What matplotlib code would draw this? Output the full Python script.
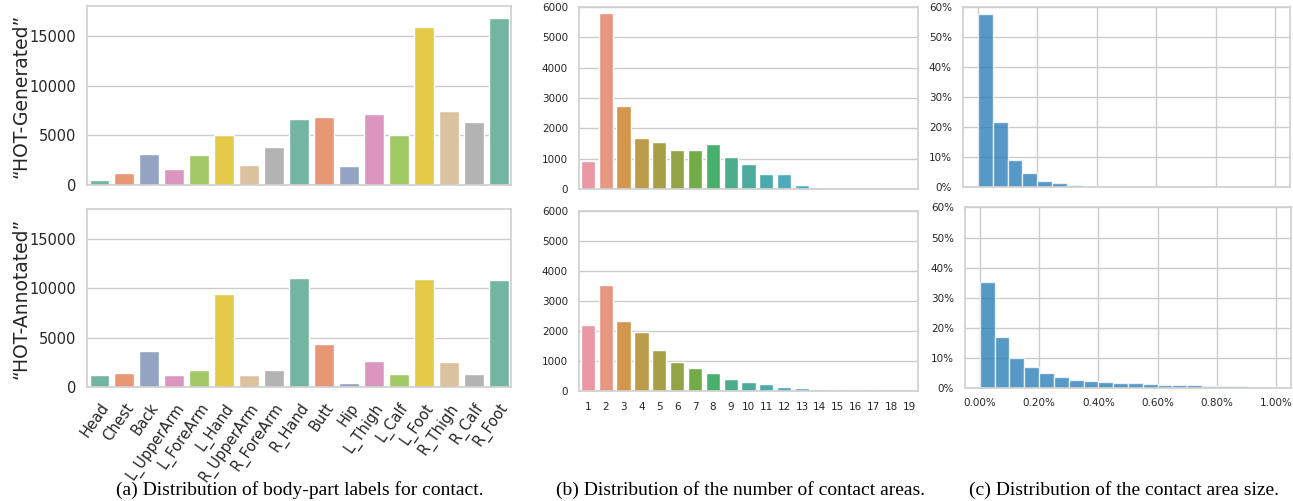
import numpy as np
import matplotlib
matplotlib.use("Agg")
import matplotlib.pyplot as plt
from matplotlib.ticker import PercentFormatter
import seaborn as sns

# (a) body-part label counts
parts = ["Head", "Chest", "Back", "L_UpperArm", "L_ForeArm", "L_Hand", "R_UpperArm",
         "R_ForeArm", "R_Hand", "Butt", "Hip", "L_Thigh", "L_Calf", "L_Foot",
         "R_Thigh", "R_Calf", "R_Foot"]
gen_parts = [505, 1150, 3140, 1620, 3000, 5020, 2020, 3780, 6640, 6880, 1890,
             7110, 4990, 15900, 7450, 6340, 16850]
ann_parts = [1250, 1380, 3610, 1210, 1750, 9400, 1210, 1750, 11060, 4380, 400,
             2630, 1350, 10960, 2560, 1350, 10890]

# (b) number of contact areas
n_areas = list(range(1, 20))
gen_areas = [920, 5790, 2735, 1680, 1540, 1295, 1285, 1480, 1040, 830, 500, 487,
             144, 55, 12, 6, 4, 2, 1]
ann_areas = [2190, 3530, 2340, 1970, 1370, 980, 780, 590, 412, 290, 245, 145,
             111, 78, 45, 45, 45, 11, 5]

# (c) contact area size histogram (fraction per bin, bin width 0.05%)
bin_edges = [i * 0.0005 for i in range(20)]
gen_size = [0.577, 0.216, 0.091, 0.047, 0.021, 0.014, 0.007, 0.003, 0.001, 0.0005,
            0.0003, 0.0002, 0.0001, 0.0001, 0.0001, 0, 0, 0, 0, 0]
ann_size = [0.352, 0.171, 0.100, 0.070, 0.051, 0.038, 0.028, 0.024, 0.020, 0.017,
            0.0155, 0.013, 0.011, 0.010, 0.009, 0.008, 0.007, 0.0055, 0.0045, 0.004]

sns.set_theme(style="whitegrid")

set2 = [sns.desaturate(c, 0.75) for c in sns.color_palette("Set2", 8)]
part_colors = [set2[i % 8] for i in range(len(parts))]
husl = [sns.desaturate(c, 0.75) for c in sns.husl_palette(len(n_areas), l=.7)]
hist_color = "#1f77b4"

fig = plt.figure(figsize=(12.93, 5.01), dpi=100)

ax_a1 = fig.add_axes([0.0673, 0.631, 0.328, 0.357])
ax_a2 = fig.add_axes([0.0673, 0.2275, 0.328, 0.355])
ax_b1 = fig.add_axes([0.4478, 0.623, 0.2622, 0.363])
ax_b2 = fig.add_axes([0.4478, 0.2196, 0.2622, 0.359])
ax_c1 = fig.add_axes([0.7448, 0.627, 0.2529, 0.359])
ax_c2 = fig.add_axes([0.7463, 0.2255, 0.2522, 0.3605])

# panel a
xa = np.arange(len(parts))
for ax, vals, lab in [(ax_a1, gen_parts, "\u201cHOT-Generated\u201d"),
                      (ax_a2, ann_parts, "\u201cHOT-Annotated\u201d")]:
    ax.bar(xa, vals, width=0.8, color=part_colors, edgecolor="white", linewidth=1)
    ax.set_xlim(-0.5, len(parts) - 0.5)
    ax.set_ylim(0, 18050)
    ax.set_yticks([0, 5000, 10000, 15000])
    ax.xaxis.grid(False)
    ax.tick_params(axis="y", labelsize=10.5, pad=2)
    ax.set_ylabel(lab, fontsize=13.5, labelpad=-1)
ax_a1.set_xticks([])
ax_a2.set_xticks(xa)
ax_a2.set_xticklabels(parts, rotation=55, ha="right", rotation_mode="anchor", fontsize=10.5)

# panel b
xb = np.arange(len(n_areas))
for ax, vals in [(ax_b1, gen_areas), (ax_b2, ann_areas)]:
    ax.bar(xb, vals, width=0.8, color=husl, edgecolor="white", linewidth=1)
    ax.set_xlim(-0.5, len(n_areas) - 0.5)
    ax.set_ylim(0, 6000)
    ax.xaxis.grid(False)
    ax.tick_params(axis="y", labelsize=7.5, pad=2)
ax_b1.set_xticks([])
ax_b2.set_xticks(xb)
ax_b2.set_xticklabels([str(n) for n in n_areas], fontsize=7.5)
ax_b2.tick_params(axis="x", pad=2)

# panel c
for ax, vals in [(ax_c1, gen_size), (ax_c2, ann_size)]:
    ax.bar(bin_edges, vals, width=0.0005, align="edge", color=hist_color, alpha=0.75,
           edgecolor="white", linewidth=1)
    ax.set_xlim(-0.0005, 0.0105)
    ax.set_ylim(0, 0.6)
    ax.set_xticks([0, 0.002, 0.004, 0.006, 0.008, 0.01])
    ax.yaxis.set_major_formatter(PercentFormatter(1, decimals=0))
    ax.tick_params(axis="y", labelsize=7.5, pad=2)
ax_c1.tick_params(axis="x", labelbottom=False)
ax_c2.xaxis.set_major_formatter(PercentFormatter(1, decimals=2))
ax_c2.tick_params(axis="x", labelsize=7.5, pad=1)

for ax in fig.axes:
    for s in ax.spines.values():
        s.set_color("#d0d0d0")

cap = dict(fontsize=14, family="Liberation Serif", ha="center", va="center", color="black")
fig.text(0.2316, 0.022, "(a) Distribution of body-part labels for contact.", **cap)
fig.text(0.5725, 0.022, "(b) Distribution of the number of contact areas.", **cap)
fig.text(0.869, 0.022, "(c) Distribution of the contact area size.", **cap)

fig.savefig("out.png", dpi=100)
